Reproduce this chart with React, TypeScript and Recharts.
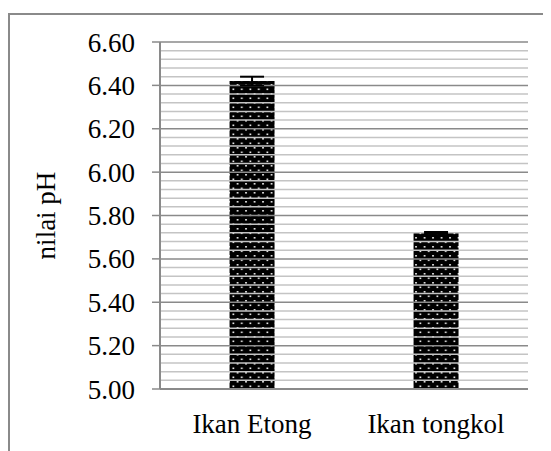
import * as React from 'react'
import { BarChart, Bar, XAxis, YAxis, ErrorBar, ReferenceLine } from 'recharts'

const categories = ['Ikan Etong', 'Ikan tongkol']
const phValues = [6.42, 5.72]
const phErrors = [0.02, 0.004]
const yTicks = [5.0, 5.2, 5.4, 5.6, 5.8, 6.0, 6.2, 6.4, 6.6]
const minorTicks = [
    5.04, 5.08, 5.12, 5.16, 5.24, 5.28, 5.32, 5.36, 5.44, 5.48, 5.52, 5.56,
    5.64, 5.68, 5.72, 5.76, 5.84, 5.88, 5.92, 5.96, 6.04, 6.08, 6.12, 6.16,
    6.24, 6.28, 6.32, 6.36, 6.44, 6.48, 6.52, 6.56,
]

const data = categories.map((name, i) => ({ name, ph: phValues[i], err: phErrors[i] }))

const font = { fontFamily: '"Liberation Serif", "Times New Roman", serif', fontSize: 27, fill: '#000' }

export default function App() {
    return (
        <div style={{ marginTop: 5, width: 543, borderLeft: '2px solid #8a8a8a', borderTop: '2px solid #8a8a8a' }}>
            <BarChart width={541} height={436} data={data} margin={{ top: 27, right: 23, bottom: 22, left: 0 }}
                barCategoryGap="37.8%">
                <defs>
                    <pattern id="dots" width="8.5" height="9" patternUnits="userSpaceOnUse">
                        <rect width="8.5" height="9" fill="#000" />
                        <rect x="1.5" y="1.5" width="1.6" height="1.6" fill="#fff" />
                        <rect x="5.75" y="6" width="1.6" height="1.6" fill="#fff" />
                    </pattern>
                </defs>
                {minorTicks.map(v => (
                    <ReferenceLine key={'m' + v} y={v} stroke="#c4c4c4" strokeWidth={1.5} ifOverflow="visible" />
                ))}
                {yTicks.slice(1).map(v => (
                    <ReferenceLine key={'M' + v} y={v} stroke="#8a8a8a" strokeWidth={1.5} ifOverflow="visible" />
                ))}
                <XAxis dataKey="name" height={40} tick={font} tickLine={false} tickSize={0} tickMargin={25}
                    axisLine={{ stroke: '#8a8a8a', strokeWidth: 2 }} />
                <YAxis width={150} domain={[5, 6.6]} ticks={yTicks} interval={0} tick={font}
                    tickFormatter={(v: number) => v.toFixed(2)} tickSize={8} tickMargin={17}
                    tickLine={{ stroke: '#8a8a8a', strokeWidth: 1.5 }}
                    axisLine={{ stroke: '#8a8a8a', strokeWidth: 2 }}
                    label={{ value: 'nilai pH', angle: -90, position: 'insideLeft', offset: 35, style: { ...font, textAnchor: 'middle' } }} />
                <Bar dataKey="ph" fill="url(#dots)" isAnimationActive={false}>
                    <ErrorBar dataKey="err" width={12} stroke="#000" strokeWidth={2} />
                </Bar>
            </BarChart>
        </div>
    )
}
